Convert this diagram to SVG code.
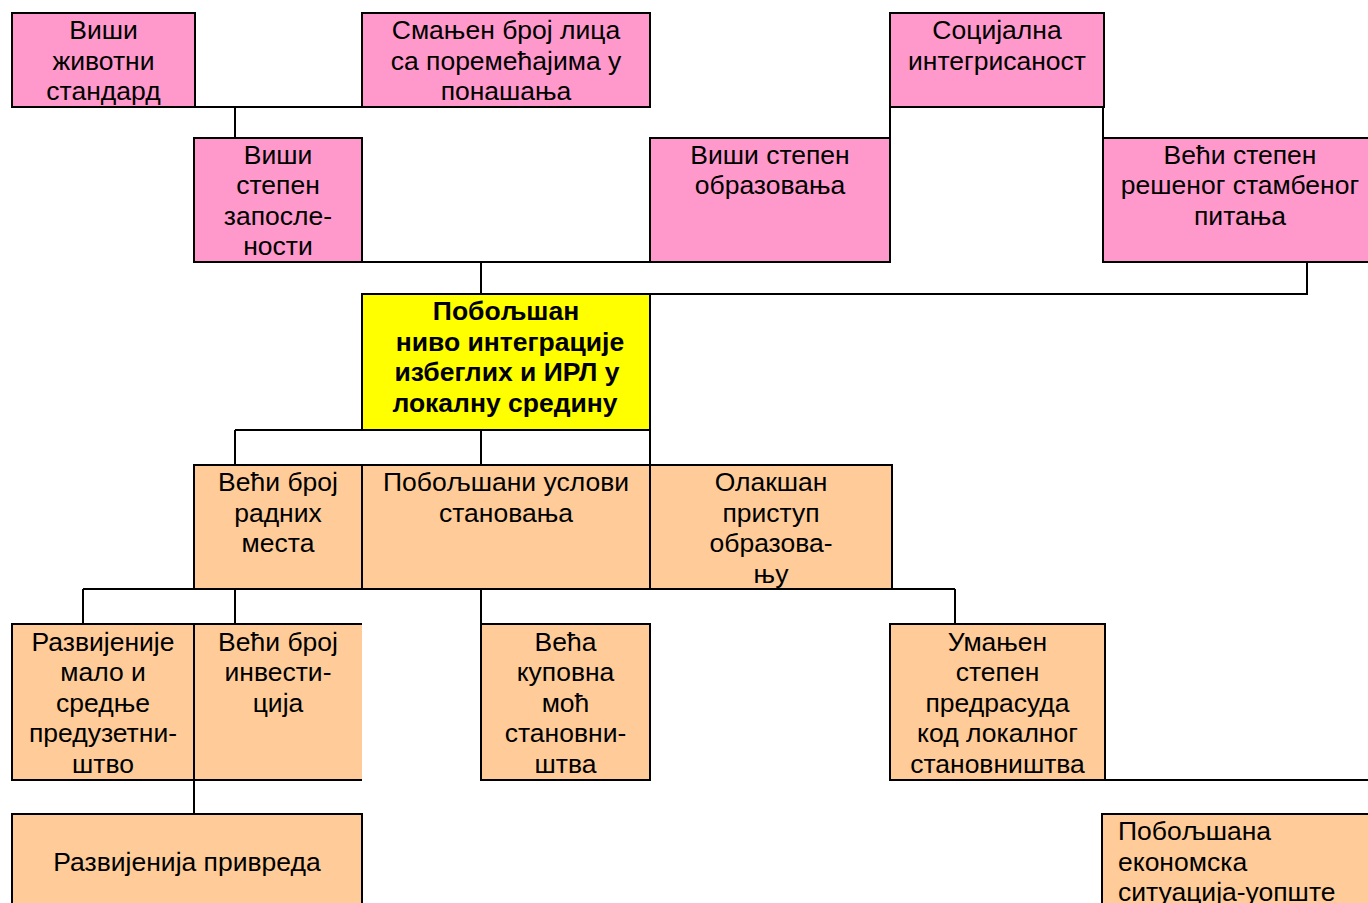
<svg xmlns="http://www.w3.org/2000/svg" width="1368" height="903" viewBox="0 0 1368 903">
<style>
.box{stroke:#000;stroke-width:2}
.pink{fill:#FF99CC}
.org{fill:#FFCC99}
.yel{fill:#FFFF00}
.t{font-family:"Liberation Sans",Arial,sans-serif;font-size:26.5px;fill:#000;text-anchor:middle}
.b{font-weight:bold}
.l{text-anchor:start}
.c{fill:none;stroke:#000;stroke-width:2}
</style>
<rect width="1368" height="903" fill="#fff"/>
<g id="connectors">
<path class="c" d="M195,107H362M235,107V138M362,262H650M481,262V294M650,294H1307V262M890,107V138M1103,107V138M235,430H650M235,430V465M481,430V465M650,430V465M83,589H955M83,589V624M235,589V624M481,589V624M955,589V624M194,780V814M1105,780H1368"/>
</g>
<g id="n1"><rect class="box pink" x="12" y="13" width="183" height="94"/>
<text class="t" x="103.5" y="39">Виши</text><text class="t" x="103.5" y="70">животни</text><text class="t" x="103.5" y="100">стандард</text></g>
<g id="n2"><rect class="box pink" x="362" y="13" width="288" height="94"/>
<text class="t" x="506" y="39">Смањен број лица</text><text class="t" x="506" y="70">са поремећајима у</text><text class="t" x="506" y="100">понашања</text></g>
<g id="n3"><rect class="box pink" x="194" y="138" width="168" height="124"/>
<text class="t" x="278" y="164">Виши</text><text class="t" x="278" y="194">степен</text><text class="t" x="278" y="225">запосле-</text><text class="t" x="278" y="255">ности</text></g>
<g id="n4"><rect class="box pink" x="650" y="138" width="240" height="124"/>
<text class="t" x="770" y="164">Виши степен</text><text class="t" x="770" y="194">образовања</text></g>
<g id="n5"><rect class="box pink" x="890" y="13" width="214" height="94"/>
<text class="t" x="997" y="39">Социјална</text><text class="t" x="997" y="70">интегрисаност</text></g>
<g id="n6"><rect class="box pink" x="1103" y="138" width="277" height="124"/>
<text class="t" x="1240" y="164">Већи степен</text><text class="t" x="1240" y="194">решеног стамбеног</text><text class="t" x="1240" y="225">питања</text></g>
<g id="core"><rect class="box yel" x="362" y="294" width="288" height="136"/>
<text class="t b" x="506" y="320">Побољшан</text><text class="t b" x="510" y="351">ниво интеграције</text><text class="t b" x="507" y="381">избеглих и ИРЛ у</text><text class="t b" x="505" y="412">локалну средину</text></g>
<g id="o1"><rect class="box org" x="194" y="465" width="168" height="124"/>
<text class="t" x="278" y="491">Већи број</text><text class="t" x="278" y="522">радних</text><text class="t" x="278" y="552">места</text></g>
<g id="o2"><rect class="box org" x="362" y="465" width="288" height="124"/>
<text class="t" x="506" y="491">Побољшани услови</text><text class="t" x="506" y="522">становања</text></g>
<g id="o3"><rect class="box org" x="650" y="465" width="242" height="124"/>
<text class="t" x="771" y="491">Олакшан</text><text class="t" x="771" y="522">приступ</text><text class="t" x="771" y="552">образова-</text><text class="t" x="771" y="583">њу</text></g>
<g id="b1"><rect class="box org" x="12" y="624" width="182" height="156"/>
<text class="t" x="103" y="650.5">Развијеније</text><text class="t" x="103" y="681">мало и</text><text class="t" x="103" y="711.5">средње</text><text class="t" x="103" y="742">предузетни-</text><text class="t" x="103" y="772.5">штво</text></g>
<g id="b2"><rect class="org" x="194" y="624" width="168" height="156"/>
<path class="c" d="M362,624H194V780H362"/>
<text class="t" x="278" y="650.5">Већи број</text><text class="t" x="278" y="681">инвести-</text><text class="t" x="278" y="711.5">ција</text></g>
<g id="b3"><rect class="box org" x="481" y="624" width="169" height="156"/>
<text class="t" x="565.5" y="650.5">Већа</text><text class="t" x="565.5" y="681">куповна</text><text class="t" x="565.5" y="711.5">моћ</text><text class="t" x="565.5" y="742">становни-</text><text class="t" x="565.5" y="772.5">штва</text></g>
<g id="b4"><rect class="box org" x="890" y="624" width="215" height="156"/>
<text class="t" x="997.5" y="650.5">Умањен</text><text class="t" x="997.5" y="681">степен</text><text class="t" x="997.5" y="711.5">предрасуда</text><text class="t" x="997.5" y="742">код локалног</text><text class="t" x="997.5" y="772.5">становништва</text></g>
<g id="p1"><rect class="box org" x="12" y="814" width="350" height="120"/>
<text class="t" x="187" y="871">Развијенија привреда</text></g>
<g id="p2"><rect class="box org" x="1102" y="814" width="280" height="120"/>
<text class="t l" x="1118" y="840">Побољшана</text><text class="t l" x="1118" y="870.5">економска</text><text class="t l" x="1118" y="901">ситуација-уопште</text></g>
</svg>
